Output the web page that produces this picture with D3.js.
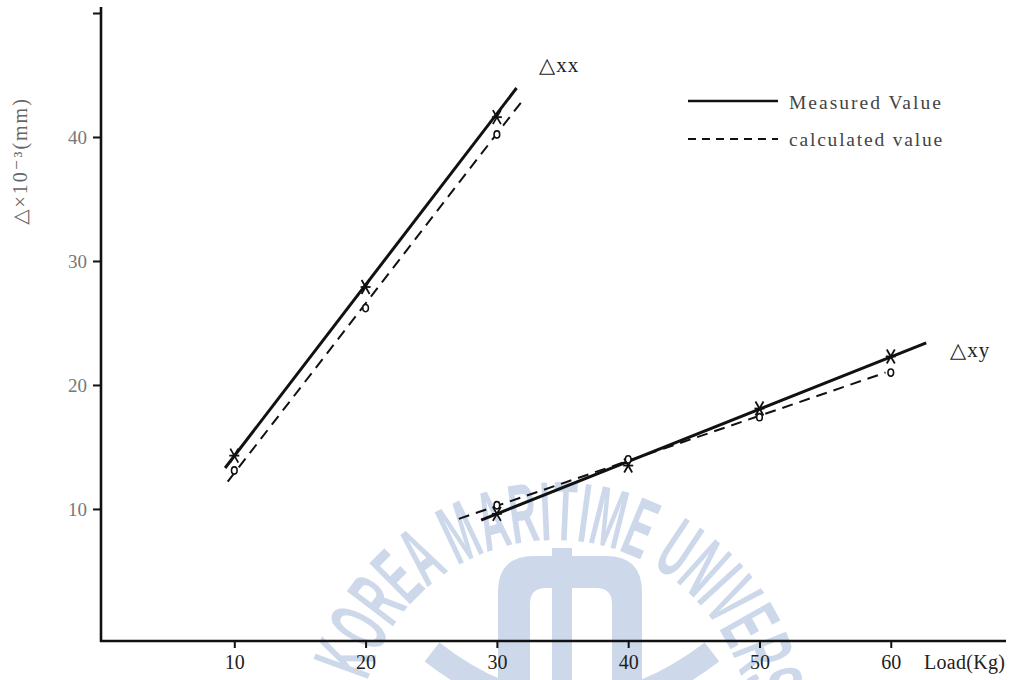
<!DOCTYPE html>
<html>
<head>
<meta charset="utf-8">
<script src="https://cdn.jsdelivr.net/npm/d3@7"></script>
<style>
  html, body { margin: 0; padding: 0; background: #fff; }
  svg { display: block; }
</style>
</head>
<body>
<svg id="chart" width="1020" height="680"></svg>
<script>
// Load (Kg) at which deformations were taken
const loads = [10, 20, 30];
const loadsXY = [30, 40, 50, 60];

// Δxx: measured and calculated deformations (×10⁻³ mm)
const measuredXX = [14.3, 27.9, 41.6];
const calculatedXX = [13.1, 26.2, 40.2];

// Δxy: measured and calculated deformations (×10⁻³ mm)
const measuredXY = [9.6, 13.5, 18.1, 22.3];
const calculatedXY = [10.3, 14.0, 17.4, 21.0];

// Fitted straight lines, given as [load, deformation] end points
const fitMeasuredXX = [[9.3, 13.3], [31.5, 43.95]];
const fitCalculatedXX = [[9.5, 12.2], [31.85, 42.8]];
const fitMeasuredXY = [[28.8, 9.1], [62.7, 23.4]];
const fitCalculatedXY = [[27.1, 9.2], [59.6, 21.0]];

// Axis ticks
const xTicks = [10, 20, 30, 40, 50, 60];
const yTicks = [10, 20, 30, 40, 50];
const yTickLabels = ["10", "20", "30", "40", ""];

const svg = d3.select("#chart");
const serif = "'Liberation Serif', 'DejaVu Serif', serif";

const x = d3.scaleLinear().domain([0, 68.7]).range([103, 1005]);
const y = d3.scaleLinear().domain([-0.65, 50]).range([641, 13]);

// ---- faint university watermark behind the plot ----
const wmColor = "#cdd9eb";
const wm = svg.append("g").attr("fill", wmColor);
const cx = 555, cy = 735, r = 195;
const arc = d3.path();
const a0 = 196 * Math.PI / 180, a1 = 372 * Math.PI / 180;
arc.moveTo(cx + r * Math.cos(a0), cy + r * Math.sin(a0));
arc.arc(cx, cy, r, a0, a1, false);
svg.append("defs").append("path").attr("id", "wmArc").attr("d", arc.toString());
wm.append("text")
  .attr("font-family", "'Liberation Sans Narrow', 'Liberation Sans', sans-serif")
  .attr("font-weight", "bold")
  .attr("font-size", 84)
  .append("textPath")
  .attr("href", "#wmArc")
  .attr("textLength", 585)
  .attr("lengthAdjust", "spacingAndGlyphs")
  .text("KOREA MARITIME UNIVERSITY");
// emblem: arch with a central post
wm.append("path")
  .attr("fill-rule", "evenodd")
  .attr("d", "M498,690 L498,592 Q498,556 534,556 L606,556 Q642,556 642,592 L642,690 L612,690 L612,604 Q612,588 596,588 L546,588 Q530,588 530,604 L530,690 Z");
wm.append("rect").attr("x", 552).attr("y", 548).attr("width", 20).attr("height", 140);
wm.append("path")
  .attr("fill", "none").attr("stroke", wmColor).attr("stroke-width", 24)
  .attr("d", "M432,652 Q570,760 712,652");

// ---- axes ----
const ink = "#111";
svg.append("line").attr("x1", 101).attr("x2", 101).attr("y1", 7).attr("y2", 642)
  .attr("stroke", ink).attr("stroke-width", 2.6);
svg.append("line").attr("x1", 100).attr("x2", 1006).attr("y1", 641).attr("y2", 641)
  .attr("stroke", ink).attr("stroke-width", 2.6);

const xAxis = d3.axisBottom(x).tickValues(xTicks).tickSize(7).tickPadding(7).tickFormat(d3.format("d"));
const gx = svg.append("g").attr("transform", "translate(0,641)").call(xAxis);
gx.select(".domain").remove();
gx.selectAll(".tick line").attr("stroke", ink).attr("stroke-width", 2);
gx.selectAll(".tick text").attr("font-family", serif).attr("font-size", 20).attr("fill", "#222");

const yAxis = d3.axisLeft(y).tickValues(yTicks).tickSize(8).tickPadding(6)
  .tickFormat((d, i) => yTickLabels[i]);
const gy = svg.append("g").attr("transform", "translate(101,0)").call(yAxis);
gy.select(".domain").remove();
gy.selectAll(".tick line").attr("stroke", ink).attr("stroke-width", 2);
gy.selectAll(".tick text").attr("font-family", serif).attr("font-size", 19).attr("fill", "#777");

svg.append("text").attr("x", 924).attr("y", 669)
  .attr("font-family", serif).attr("font-size", 20).attr("letter-spacing", 0.3).attr("fill", "#222")
  .text("Load(Kg)");

svg.append("text")
  .attr("transform", "translate(27,161) rotate(-90)")
  .attr("text-anchor", "middle")
  .attr("font-family", serif).attr("font-size", 20).attr("letter-spacing", 2).attr("fill", "#666")
  .text("△×10⁻³(mm)");

// ---- fitted lines ----
const line = d3.line().x(d => x(d[0])).y(d => y(d[1]));
function drawFit(pts, dashed) {
  svg.append("path").attr("d", line(pts)).attr("fill", "none")
    .attr("stroke", ink)
    .attr("stroke-width", dashed ? 2 : 3)
    .attr("stroke-dasharray", dashed ? "11,7" : null);
}
drawFit(fitMeasuredXX, false);
drawFit(fitCalculatedXX, true);
drawFit(fitMeasuredXY, false);
drawFit(fitCalculatedXY, true);

// ---- markers ----
function starMarks(xs, ys) {
  const g = svg.append("g").attr("stroke", ink).attr("stroke-width", 1.8);
  xs.forEach((v, i) => {
    const px = x(v), py = y(ys[i]);
    g.append("line").attr("x1", px - 4).attr("y1", py - 7).attr("x2", px + 4).attr("y2", py + 7);
    g.append("line").attr("x1", px - 4).attr("y1", py + 7).attr("x2", px + 4).attr("y2", py - 7);
    g.append("line").attr("x1", px - 5).attr("y1", py).attr("x2", px + 5).attr("y2", py);
  });
}
function circleMarks(xs, ys) {
  svg.append("g").selectAll("ellipse").data(xs).join("ellipse")
    .attr("cx", d => x(d)).attr("cy", (d, i) => y(ys[i]))
    .attr("rx", 2.8).attr("ry", 3.6)
    .attr("fill", "#fff").attr("stroke", ink).attr("stroke-width", 1.6);
}
starMarks(loads, measuredXX);
circleMarks(loads, calculatedXX);
starMarks(loadsXY, measuredXY);
circleMarks(loadsXY, calculatedXY);

// ---- series labels ----
svg.append("text").attr("x", 539).attr("y", 72)
  .attr("font-family", serif).attr("font-size", 21).attr("letter-spacing", 1).attr("fill", "#222").text("△xx");
svg.append("text").attr("x", 950).attr("y", 357)
  .attr("font-family", serif).attr("font-size", 21).attr("letter-spacing", 1).attr("fill", "#222").text("△xy");

// ---- legend ----
const legend = svg.append("g");
legend.append("line").attr("x1", 688).attr("x2", 778).attr("y1", 101).attr("y2", 101)
  .attr("stroke", ink).attr("stroke-width", 2.6);
legend.append("line").attr("x1", 688).attr("x2", 778).attr("y1", 139).attr("y2", 139)
  .attr("stroke", ink).attr("stroke-width", 2).attr("stroke-dasharray", "8,6");
legend.append("text").attr("x", 789).attr("y", 109)
  .attr("font-family", serif).attr("font-size", 19.5).attr("letter-spacing", 2).attr("fill", "#444").text("Measured Value");
legend.append("text").attr("x", 789).attr("y", 146)
  .attr("font-family", serif).attr("font-size", 19.5).attr("letter-spacing", 1.8).attr("fill", "#444").text("calculated value");
</script>
</body>
</html>
